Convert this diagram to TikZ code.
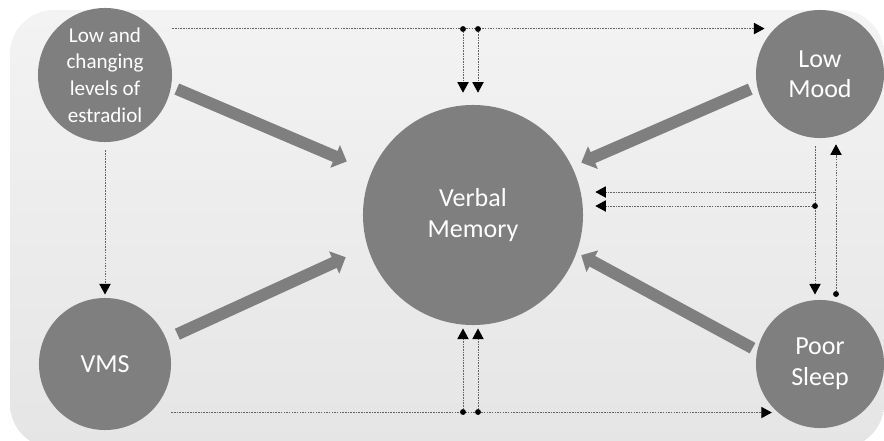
\documentclass[tikz,border=0pt]{standalone}
\usepackage{fontspec}
\setmainfont{Carlito}
\usepackage{tikz}
\usetikzlibrary{arrows.meta,calc}
\usepackage{xcolor}
\definecolor{vmgrey}{RGB}{127,127,127}
\definecolor{vmdot}{RGB}{100,100,100}
\definecolor{bgtop}{RGB}{243,243,243}
\definecolor{bgbottom}{RGB}{229,229,229}
\tikzstyle{factor} = [circle, fill=vmgrey, text=white, inner sep=0pt, align=center]
\tikzstyle{bigarrow} = [line width=8.5pt, color=vmgrey, -{Triangle[length=9pt,width=17pt]}]
\tikzstyle{dotline} = [line width=0.7pt, color=vmdot, dash pattern=on 1.1pt off 0.8pt]
\tikzstyle{dotarrow} = [dotline, -{Triangle[length=7.5pt,width=8pt,color=black]}]
\tikzstyle{junction} = [circle, fill=black, inner sep=0pt, minimum size=4.2pt]

\begin{document}
\begin{tikzpicture}[x=0.025cm, y=-0.025cm]
\useasboundingbox (0,0) rectangle (884,441);
% Background panel
\shade[top color=bgtop, bottom color=bgbottom, rounded corners=1.1cm] (10,10) rectangle (884,448);

% Factors
\node[factor, minimum size=3.35cm, font=\fontsize{15}{19}\selectfont] (est) at (105,75) {Low and\\changing\\levels of\\estradiol};
\node[factor, minimum size=3.3cm, font=\fontsize{18.5}{21.5}\selectfont] (vms) at (105,364) {VMS};
\node[factor, minimum size=3.2cm, font=\fontsize{18.5}{21.5}\selectfont] (mood) at (820,74) {Low\\Mood};
\node[factor, minimum size=3.2cm, font=\fontsize{18.5}{22}\selectfont] (sleep) at (820,364) {Poor\\Sleep};
\node[factor, minimum size=5.5cm, font=\fontsize{18.5}{22.5}\selectfont] (vm) at (473,215) {Verbal\\Memory};

% Direct effects
\draw[bigarrow, shorten <=0.15cm, shorten >=0.67cm] (est.-10) -- (vm.157);
\draw[bigarrow, shorten <=0.18cm, shorten >=0.25cm] (mood.191) -- (vm.26);
\draw[bigarrow, shorten <=0.3cm, shorten >=0.6cm] (vms.22) -- (vm.197);
\draw[bigarrow, shorten <=0.13cm, shorten >=0.13cm] (sleep.168) -- (vm.-20);

% Junctions
\coordinate (t1) at (463,29);
\coordinate (t2) at (478,29);
\coordinate (b1) at (463,412);
\coordinate (b2) at (478,412);
\coordinate (r1) at (815,192);
\coordinate (r2) at (815,206);
\coordinate (r3) at (836,294);

% Indirect paths
\draw[dotarrow, shorten >=0.25cm] (mood.135 -| est.east) -- (mood.135);
\draw[dotarrow, shorten >=0.3cm] (t1) -- (t1 |- vm.north);
\draw[dotarrow, shorten >=0.3cm] (t2) -- (t2 |- vm.north);
\draw[dotarrow, shorten >=0.15cm] (sleep.229 -| vms.east) -- (sleep.229);
\draw[dotarrow, shorten >=0.08cm] (b1) -- (b1 |- vm.south);
\draw[dotarrow, shorten >=0.08cm] (b2) -- (b2 |- vm.south);
\draw[dotarrow, shorten <=0.2cm, shorten >=0.08cm] (est.south) -- (vms.north);
\draw[dotarrow, shorten <=0.2cm, shorten >=0.13cm] (r1 |- mood.south) -- (r1 |- sleep.north);
\draw[dotarrow, shorten >=0.3cm] (r1) -- (r1 -| vm.east);
\draw[dotarrow, shorten >=0.3cm] (r2) -- (r2 -| vm.east);
\draw[dotarrow, shorten >=0.15cm] (r3) -- (r3 |- mood.south);

\foreach \j in {t1,t2,b1,b2,r2,r3}
  \node[junction] at (\j) {};
\end{tikzpicture}
\end{document}
